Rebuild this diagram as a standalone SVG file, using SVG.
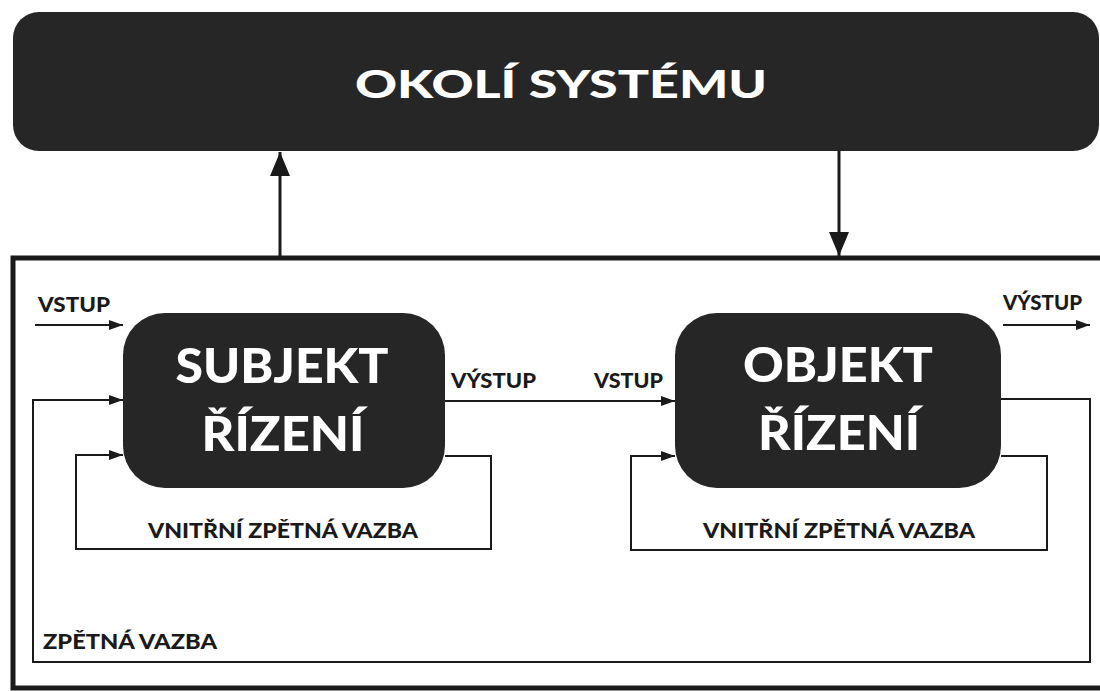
<svg xmlns="http://www.w3.org/2000/svg" width="1100" height="691" viewBox="0 0 1100 691">
<style>
.box{fill:#262626;}
.big{font-family:Lato,"Open Sans","Liberation Sans",sans-serif;font-weight:900;fill:#ffffff;}
.lbl{font-family:Lato,"Open Sans","Liberation Sans",sans-serif;font-weight:900;fill:#1a1a1a;font-size:20px;}
.ln{fill:none;stroke:#1a1a1a;stroke-width:2;}
.thick{fill:none;stroke:#1a1a1a;stroke-width:3;}
</style>
<defs>
<marker id="ah" viewBox="0 0 14 10" refX="14" refY="5" markerWidth="14" markerHeight="10" markerUnits="userSpaceOnUse" orient="auto">
<path d="M0,0 L14,5 L0,10 Z" fill="#1a1a1a"/>
</marker>
<marker id="ahBig" viewBox="0 0 24 20" refX="24" refY="10" markerWidth="24" markerHeight="20" markerUnits="userSpaceOnUse" orient="auto">
<path d="M0,0 L24,10 L0,20 Z" fill="#1a1a1a"/>
</marker>
</defs>
<rect width="1100" height="691" fill="#ffffff"/>

<g id="okoli">
<rect class="box" x="13" y="12" width="1086" height="139" rx="26"/>
<text class="big" x="561" y="98" font-size="37" text-anchor="middle" textLength="412" lengthAdjust="spacingAndGlyphs">OKOLÍ SYSTÉMU</text>
</g>

<g id="system-frame">
<rect x="13" y="258" width="1100" height="430" fill="none" stroke="#1a1a1a" stroke-width="5"/>
</g>

<g id="subjekt">
<rect class="box" x="123" y="313" width="322" height="175" rx="42"/>
<text class="big" x="282" y="383" font-size="48" text-anchor="middle" textLength="213" lengthAdjust="spacingAndGlyphs">SUBJEKT</text>
<text class="big" x="283" y="451" font-size="48" text-anchor="middle" textLength="163" lengthAdjust="spacingAndGlyphs">ŘÍZENÍ</text>
</g>

<g id="objekt">
<rect class="box" x="675" y="313" width="326" height="175" rx="42"/>
<text class="big" x="838" y="382" font-size="48" text-anchor="middle" textLength="190" lengthAdjust="spacingAndGlyphs">OBJEKT</text>
<text class="big" x="839" y="450" font-size="48" text-anchor="middle" textLength="162" lengthAdjust="spacingAndGlyphs">ŘÍZENÍ</text>
</g>

<g id="connectors">
<line class="thick" x1="280" y1="258" x2="280" y2="152" marker-end="url(#ahBig)"/>
<line class="thick" x1="839" y1="151" x2="839" y2="256" marker-end="url(#ahBig)"/>
<line class="ln" x1="35" y1="325" x2="123" y2="325" marker-end="url(#ah)"/>
<line class="ln" x1="445" y1="401" x2="675" y2="401" marker-end="url(#ah)"/>
<line class="ln" x1="1003" y1="325" x2="1090" y2="325" marker-end="url(#ah)"/>
<path class="ln" d="M1001,399 H1090 V662 H33 V400 H123" marker-end="url(#ah)"/>
<path class="ln" d="M445,456 H491 V549 H76 V455 H123" marker-end="url(#ah)"/>
<path class="ln" d="M1001,456 H1047 V550 H631 V456 H675" marker-end="url(#ah)"/>
</g>

<g id="labels">
<text class="lbl" x="38" y="312" textLength="72" lengthAdjust="spacingAndGlyphs">VSTUP</text>
<text class="lbl" x="451" y="388" textLength="85" lengthAdjust="spacingAndGlyphs">VÝSTUP</text>
<text class="lbl" x="594" y="388" textLength="69" lengthAdjust="spacingAndGlyphs">VSTUP</text>
<text class="lbl" x="1003" y="310" textLength="79" lengthAdjust="spacingAndGlyphs">VÝSTUP</text>
<text class="lbl" x="148" y="538" textLength="270" lengthAdjust="spacingAndGlyphs">VNITŘNÍ ZPĚTNÁ VAZBA</text>
<text class="lbl" x="703" y="538" textLength="272" lengthAdjust="spacingAndGlyphs">VNITŘNÍ ZPĚTNÁ VAZBA</text>
<text class="lbl" x="43" y="649" textLength="174" lengthAdjust="spacingAndGlyphs">ZPĚTNÁ VAZBA</text>
</g>
</svg>
